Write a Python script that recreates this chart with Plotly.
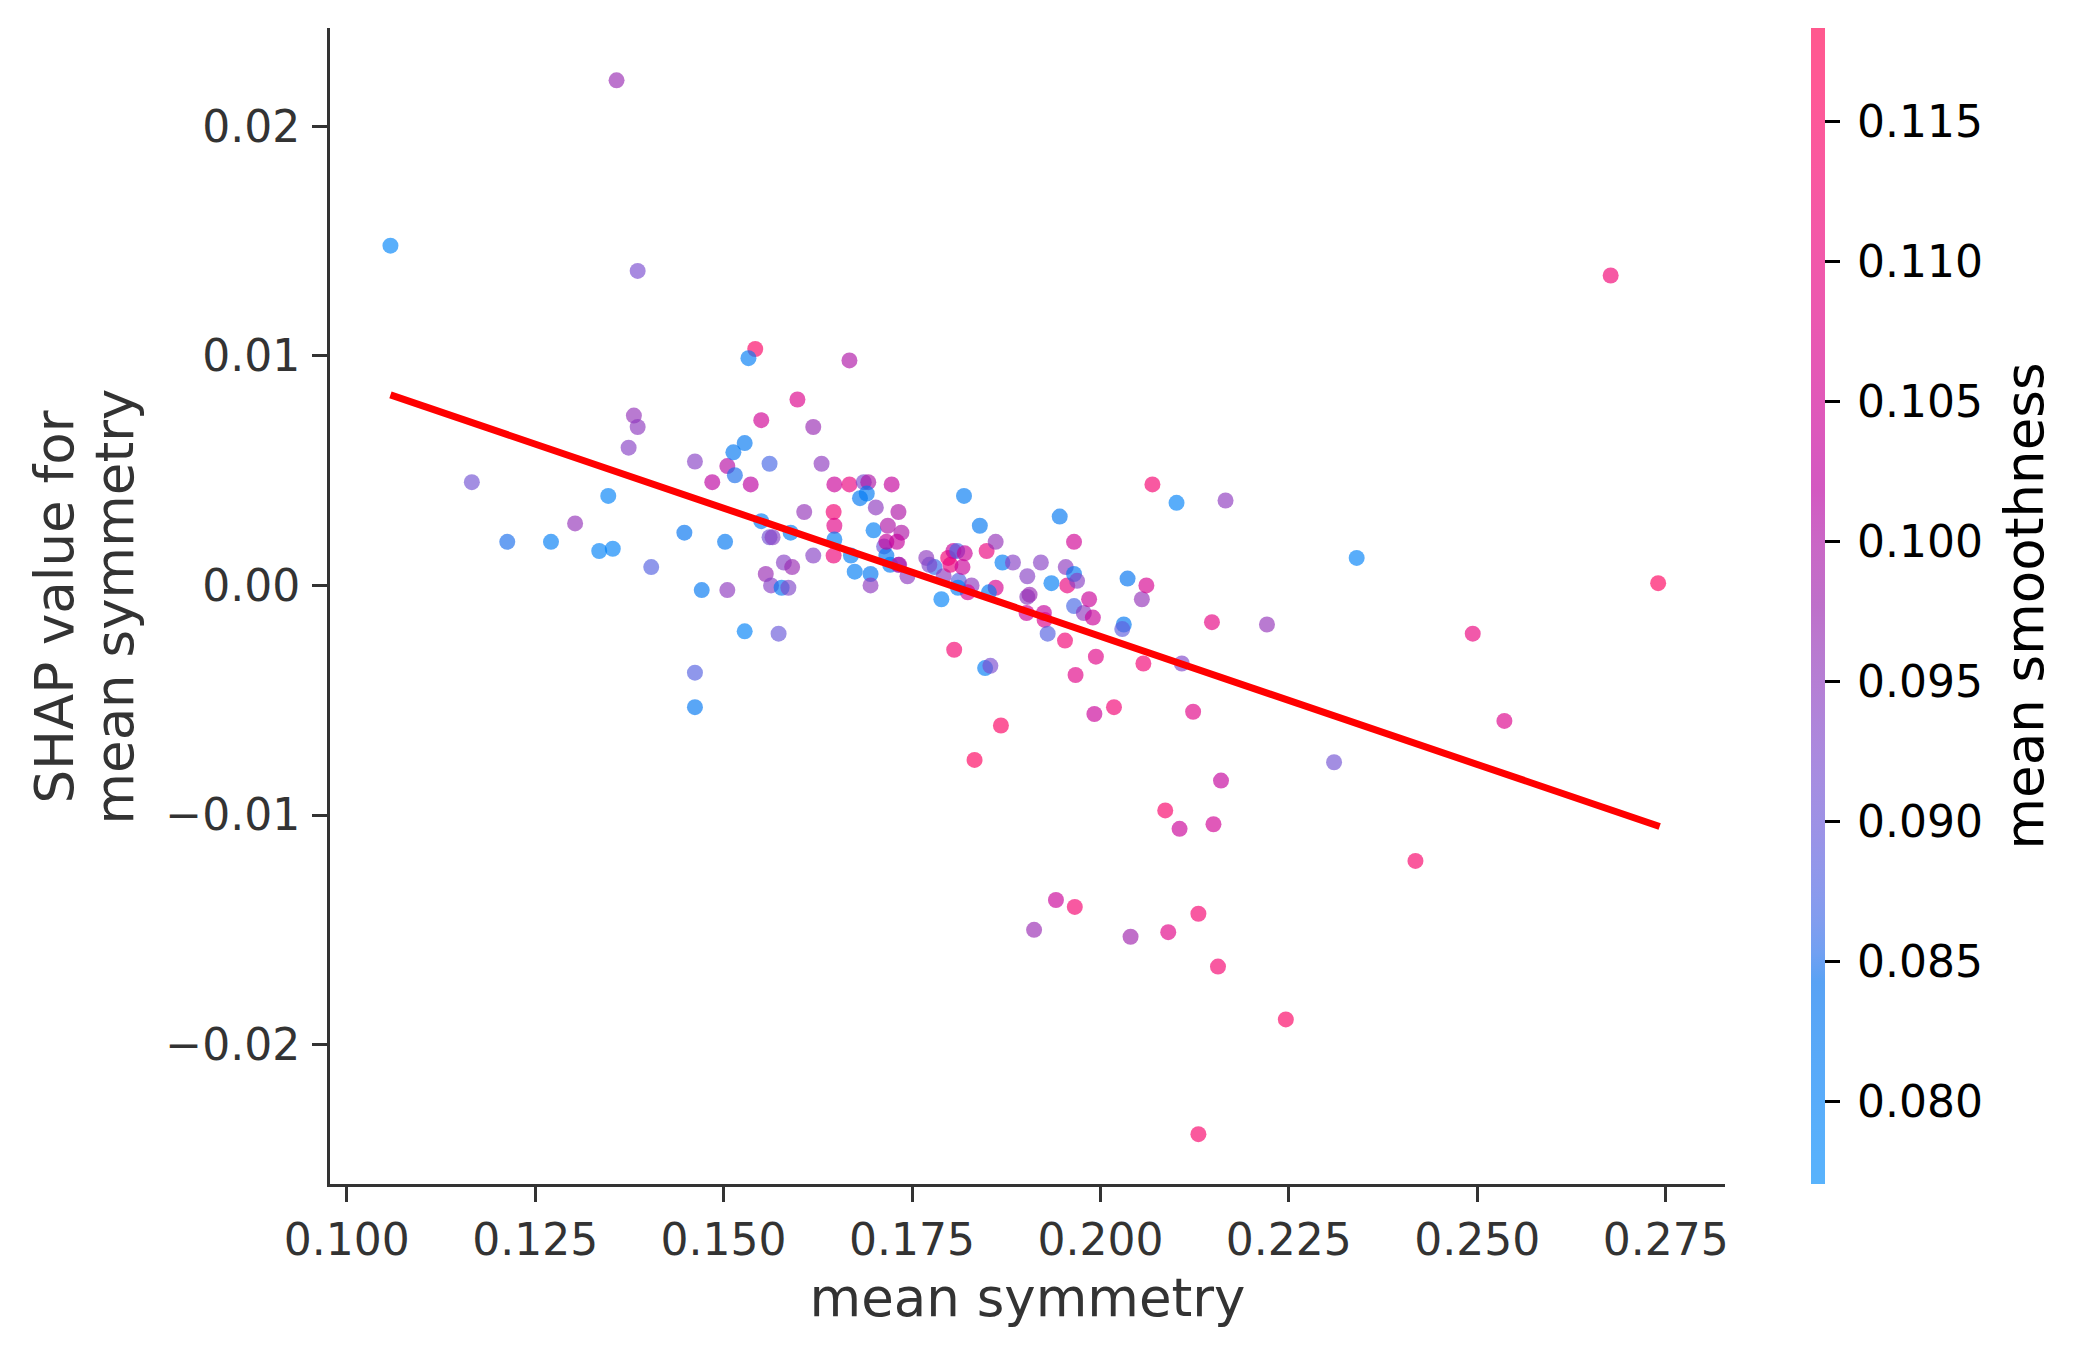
import numpy as np
import plotly.graph_objects as go

# ---- data ----
sym = [0.1058, 0.1358, 0.1386, 0.1542, 0.1533, 0.1667, 0.2677, 0.2740, 0.1166, 0.1213,
       0.1271, 0.1303, 0.1335, 0.1353, 0.1347, 0.1404, 0.1374, 0.1381, 0.1386, 0.1448,
       0.1462, 0.1485, 0.1505, 0.1513, 0.1528, 0.1515, 0.1536, 0.1550, 0.1598, 0.1619,
       0.1561, 0.1550, 0.1589, 0.1502, 0.1471, 0.1505, 0.1462, 0.1462, 0.1528, 0.1573,
       0.1556, 0.1563, 0.1561, 0.1565, 0.1577, 0.1586, 0.1580, 0.1591, 0.1607, 0.1619,
       0.1630, 0.1647, 0.1667, 0.1646, 0.1647, 0.1646, 0.1647, 0.1669, 0.1674, 0.1681,
       0.1686, 0.1692, 0.1699, 0.1702, 0.1695, 0.1695, 0.1713, 0.1716, 0.1723, 0.1718,
       0.1716, 0.1721, 0.1732, 0.1736, 0.1730, 0.1732, 0.1744, 0.1769, 0.1780, 0.1773,
       0.1789, 0.1792, 0.1798, 0.1801, 0.1805, 0.1810, 0.1812, 0.1817, 0.1819, 0.1806,
       0.1829, 0.1824, 0.1833, 0.1840, 0.1849, 0.1847, 0.1854, 0.1861, 0.1861, 0.1852,
       0.1870, 0.1868, 0.1884, 0.1903, 0.1903, 0.1906, 0.1902, 0.1921, 0.1925, 0.1926,
       0.1930, 0.1935, 0.1946, 0.1954, 0.1956, 0.1953, 0.1965, 0.1965, 0.1967, 0.1965,
       0.1969, 0.1978, 0.1985, 0.1990, 0.1994, 0.1992, 0.2018, 0.2031, 0.2029, 0.2036,
       0.2055, 0.2061, 0.2057, 0.2069, 0.2101, 0.2108, 0.2123, 0.2148, 0.2166, 0.2221,
       0.2310, 0.2340, 0.2494, 0.2536, 0.2418, 0.2160, 0.2086, 0.2105, 0.2150, 0.2130,
       0.2090, 0.2040, 0.1941, 0.1966, 0.1912, 0.2156, 0.2246, 0.2130, 0.1690, 0.1820,
       0.1811, 0.1733]
shap_sym = [0.0148, 0.0220, 0.0137, 0.0103, 0.0099, 0.0098, 0.0135, 0.0001, 0.0045, 0.0019,
            0.0019, 0.0027, 0.0015, 0.0016, 0.0039, 0.0008, 0.0060, 0.0074, 0.0069, 0.0023,
            0.0054, 0.0045, 0.0052, 0.0058, 0.0062, 0.0048, 0.0044, 0.0072, 0.0081, 0.0069,
            0.0053, 0.0028, 0.0023, 0.0019, -0.0002, -0.0002, -0.0038, -0.0053, -0.0020, -0.0021,
            0.0005, 0.0000, 0.0021, 0.0021, -0.0001, -0.0001, 0.0010, 0.0008, 0.0032, 0.0013,
            0.0053, 0.0044, 0.0044, 0.0032, 0.0026, 0.0013, 0.0020, 0.0013, 0.0006, 0.0038,
            0.0045, 0.0045, 0.0024, 0.0034, 0.0005, 0.0000, 0.0017, 0.0013, 0.0044, 0.0026,
            0.0019, 0.0009, 0.0032, 0.0023, 0.0019, 0.0009, 0.0004, 0.0012, 0.0008, 0.0009,
            -0.0006, 0.0004, 0.0012, 0.0009, 0.0015, 0.0015, 0.0002, 0.0008, 0.0039, -0.0028,
            0.0000, -0.0003, -0.0076, 0.0026, 0.0015, -0.0036, -0.0035, 0.0019, -0.0001, -0.0003,
            0.0010, -0.0061, 0.0010, 0.0004, -0.0005, -0.0004, -0.0012, 0.0010, -0.0012, -0.0015,
            -0.0021, 0.0001, 0.0030, 0.0008, 0.0000, -0.0024, 0.0005, 0.0019, -0.0039, -0.0009,
            0.0002, -0.0012, -0.0006, -0.0014, -0.0031, -0.0056, -0.0053, -0.0017, -0.0019, 0.0003,
            -0.0006, 0.0000, -0.0034, 0.0044, 0.0036, -0.0034, -0.0055, -0.0016, 0.0037, -0.0017,
            -0.0077, 0.0012, -0.0021, -0.0059, -0.0120, -0.0085, -0.0098, -0.0106, -0.0104, -0.0143,
            -0.0151, -0.0153, -0.0137, -0.0140, -0.0150, -0.0166, -0.0189, -0.0239, 0.0040, 0.0014,
            -0.0001, 0.0009]
smooth = [0.079, 0.097, 0.092, 0.115, 0.081, 0.100, 0.112, 0.116, 0.091, 0.085,
          0.081, 0.096, 0.080, 0.080, 0.080, 0.088, 0.094, 0.096, 0.095, 0.084,
          0.094, 0.102, 0.101, 0.083, 0.083, 0.085, 0.102, 0.105, 0.107, 0.097,
          0.087, 0.081, 0.081, 0.083, 0.083, 0.095, 0.088, 0.083, 0.080, 0.090,
          0.097, 0.094, 0.091, 0.094, 0.083, 0.093, 0.094, 0.097, 0.096, 0.094,
          0.095, 0.104, 0.110, 0.112, 0.108, 0.111, 0.081, 0.081, 0.081, 0.083,
          0.092, 0.100, 0.081, 0.095, 0.083, 0.095, 0.090, 0.083, 0.103, 0.100,
          0.103, 0.082, 0.100, 0.100, 0.103, 0.096, 0.095, 0.095, 0.086, 0.093,
          0.080, 0.095, 0.112, 0.110, 0.104, 0.087, 0.088, 0.104, 0.082, 0.113,
          0.095, 0.106, 0.116, 0.083, 0.110, 0.081, 0.092, 0.096, 0.106, 0.082,
          0.081, 0.115, 0.094, 0.094, 0.095, 0.097, 0.104, 0.094, 0.103, 0.107,
          0.088, 0.081, 0.083, 0.095, 0.110, 0.112, 0.083, 0.105, 0.108, 0.087,
          0.094, 0.095, 0.104, 0.104, 0.108, 0.104, 0.112, 0.083, 0.089, 0.084,
          0.096, 0.106, 0.112, 0.113, 0.080, 0.093, 0.108, 0.109, 0.095, 0.096,
          0.091, 0.080, 0.110, 0.107, 0.114, 0.103, 0.114, 0.104, 0.105, 0.113,
          0.108, 0.098, 0.104, 0.113, 0.097, 0.113, 0.115, 0.114, 0.082, 0.104,
          0.081, 0.100]
fit_x = [0.1058, 0.2742]
fit_y = [0.0083, -0.0105]

x_ticks = [0.100, 0.125, 0.150, 0.175, 0.200, 0.225, 0.250, 0.275]
x_ticktext = ["0.100", "0.125", "0.150", "0.175", "0.200", "0.225", "0.250", "0.275"]
y_ticks = [0.02, 0.01, 0.00, -0.01, -0.02]
y_ticktext = ["0.02", "0.01", "0.00", "\u22120.01", "\u22120.02"]
c_ticks = [0.080, 0.085, 0.090, 0.095, 0.100, 0.105, 0.110, 0.115]
c_ticktext = ["0.080", "0.085", "0.090", "0.095", "0.100", "0.105", "0.110", "0.115"]
c_min, c_max = 0.07707, 0.11834

# ---- SHAP red_blue colormap (LCH interpolation) ----
def lch_to_rgb(L, C, h):
    a = C * np.cos(h)
    b = C * np.sin(h)
    fy = (L + 16) / 116
    fx = fy + a / 500
    fz = fy - b / 200
    def finv(t):
        return t ** 3 if t > 0.2068966 else (t - 16 / 116) / 7.787
    X = 0.95047 * finv(fx)
    Y = finv(fy)
    Z = 1.08883 * finv(fz)
    M = np.array([[3.2406, -1.5372, -0.4986],
                  [-0.9689, 1.8758, 0.0415],
                  [0.0557, -0.2040, 1.0570]])
    lin = np.clip(M @ np.array([X, Y, Z]), 0, None)
    rgb = np.where(lin > 0.0031308, 1.055 * lin ** (1 / 2.4) - 0.055, 12.92 * lin)
    return np.clip(rgb, 0, 1)

ALPHA = 0.65
scale_pts, scale_bar = [], []
for t in np.linspace(0, 1, 41):
    L = 54 - 28 * t if t <= 0.5 else 40 + 28 * (t - 0.5)
    C = 70 + 20 * t
    h = 4.6588 + t * (0.35470565 + 2 * np.pi - 4.6588)
    rgb = lch_to_rgb(L, C, h)
    r, g, b = (rgb * 255).round().astype(int)
    scale_pts.append([float(t), f"rgb({r},{g},{b})"])
    w = (rgb * ALPHA + (1 - ALPHA)) * 255
    r2, g2, b2 = w.round().astype(int)
    scale_bar.append([float(t), f"rgb({r2},{g2},{b2})"])

AX = "#333333"
FONT = "DejaVu Sans"
PL, PR, PT, PB = 330, 359, 28, 173
W, H = 2084, 1357
PW = W - PL - PR
PH = H - PT - PB

fig = go.Figure()
fig.add_trace(go.Scatter(
    x=sym, y=shap_sym, mode="markers",
    marker=dict(size=16, color=smooth, colorscale=scale_pts, cmin=c_min, cmax=c_max,
                opacity=ALPHA, line=dict(width=0), showscale=False),
    showlegend=False, hoverinfo="skip"))
fig.add_trace(go.Scatter(
    x=fit_x, y=fit_y, mode="lines", line=dict(color="#ff0000", width=7),
    showlegend=False, hoverinfo="skip"))
# colorbar holder
sp = "\u2009"
fig.add_trace(go.Scatter(
    x=[sym[0], sym[0]], y=[shap_sym[0], shap_sym[0]], mode="markers",
    marker=dict(size=0.1, opacity=0, color=[c_min, c_max], colorscale=scale_bar,
                cmin=c_min, cmax=c_max, showscale=True,
                colorbar=dict(x=1.0613, xanchor="left", xpad=0, y=0.5, yanchor="middle",
                              ypad=0, len=1, lenmode="fraction", thickness=14,
                              outlinewidth=0, ticks="outside", ticklen=15, tickwidth=3,
                              tickcolor="black", tickvals=c_ticks,
                              ticktext=[sp + t + sp for t in c_ticktext],
                              tickfont=dict(family=FONT, size=44, color="black"),
                              title=dict(text="mean smoothness", side="right",
                                         font=dict(family=FONT, size=53, color="black")))),
    showlegend=False, hoverinfo="skip"))

# y-axis label as two rotated lines
for txt, cx in [("SHAP value for", 53.6), ("mean symmetry", 113.6)]:
    fig.add_annotation(text=txt, textangle=-90, xref="paper", yref="paper",
                       x=(cx - PL) / PW, y=1 - (607 - PT) / PH,
                       xanchor="center", yanchor="middle", showarrow=False,
                       font=dict(family=FONT, size=53, color=AX))

fig.update_layout(
    width=W, height=H,
    margin=dict(l=PL, r=PR, t=PT, b=PB),
    paper_bgcolor="white", plot_bgcolor="white",
    font=dict(family=FONT, color=AX),
    xaxis=dict(range=[0.09778, 0.28287], showgrid=False, zeroline=False,
               showline=True, linecolor=AX, linewidth=3,
               ticks="outside", ticklen=15, tickwidth=3, tickcolor=AX,
               tickvals=x_ticks, ticktext=x_ticktext,
               tickfont=dict(family=FONT, size=44, color=AX),
               title=dict(text="mean symmetry", standoff=16,
                          font=dict(family=FONT, size=53, color=AX))),
    yaxis=dict(range=[-0.02607, 0.02428], showgrid=False, zeroline=False,
               showline=True, linecolor=AX, linewidth=3,
               ticks="outside", ticklen=15, tickwidth=3, tickcolor=AX,
               tickvals=y_ticks, ticktext=y_ticktext, ticklabelstandoff=3,
               tickfont=dict(family=FONT, size=44, color=AX)),
)

fig.write_html("out.html")
